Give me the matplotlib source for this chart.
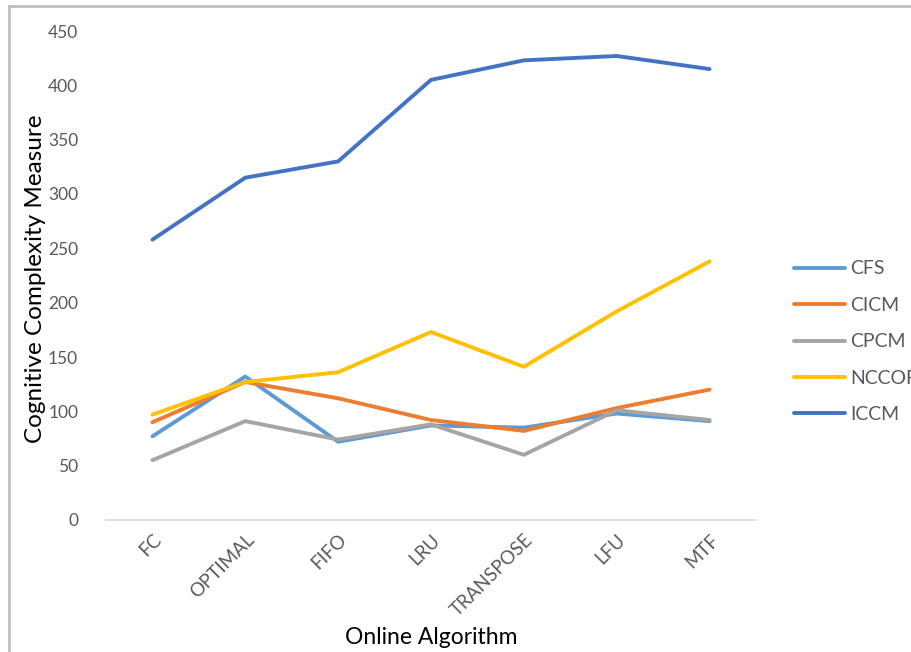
import matplotlib.pyplot as plt
from matplotlib.patches import Rectangle

plt.rcParams['font.family'] = ['Lato', 'DejaVu Sans']

algorithms = ["FC", "OPTIMAL", "FIFO", "LRU", "TRANSPOSE", "LFU", "MTF"]
cfs = [77, 132, 72, 87, 85, 98, 91]
cicm = [90, 127, 112, 92, 82, 103, 120]
cpcm = [55, 91, 74, 88, 60, 101, 92]
nccop = [97, 127, 136, 173, 141, 192, 238]
iccm = [258, 315, 330, 405, 423, 427, 415]

series = [("CFS", cfs, "#5B9BD5"),
          ("CICM", cicm, "#ED7D31"),
          ("CPCM", cpcm, "#A5A5A5"),
          ("NCCOP", nccop, "#FFC000"),
          ("ICCM", iccm, "#4472C4")]

fig = plt.figure(figsize=(9.12, 6.52), dpi=100)
ax = fig.add_axes([106 / 912, 1 - 520 / 652, 650 / 912, 489 / 652])

x = list(range(len(algorithms)))
for name, vals, col in series:
    ax.plot(x, vals, color=col, lw=2.8, label=name, solid_capstyle='round')

ax.set_xlim(-0.5, len(algorithms) - 0.5)
ax.set_ylim(0, 450)
ax.set_yticks(range(0, 451, 50))
ax.set_xticks(x)
ax.set_xticklabels(algorithms, rotation=45, ha='right', va='top', rotation_mode='anchor')
ax.tick_params(axis='both', length=0, labelcolor='#595959')
ax.tick_params(axis='y', pad=20, labelsize=12.5)
ax.tick_params(axis='x', pad=8, labelsize=13.5)
for s in ['top', 'right', 'left']:
    ax.spines[s].set_visible(False)
ax.spines['bottom'].set_color('#D9D9D9')
ax.spines['bottom'].set_linewidth(1.2)

# axis titles placed directly
fig.text(36 / 912, 1 - 279 / 652, "Cognitive Complexity Measure", rotation=90,
         ha='center', va='center', fontsize=17.5, color='black')
fig.text(431 / 912, 1 - 637 / 652, "Online Algorithm", ha='center', va='center',
         fontsize=16.5, color='black')

leg = fig.legend(loc='upper left', bbox_to_anchor=(777 / 912, 1 - 243 / 652), frameon=False,
                 fontsize=14, handlelength=2.6, labelspacing=1.0, handletextpad=0.25)
for t in leg.get_texts():
    t.set_color('#595959')

fig.patches.append(Rectangle((9 / 912, -0.1), 1.1, 1 - 6 / 652 + 0.1, transform=fig.transFigure,
                             fill=False, edgecolor='#BFBFBF', lw=2))

fig.savefig("out.png", dpi=100)
